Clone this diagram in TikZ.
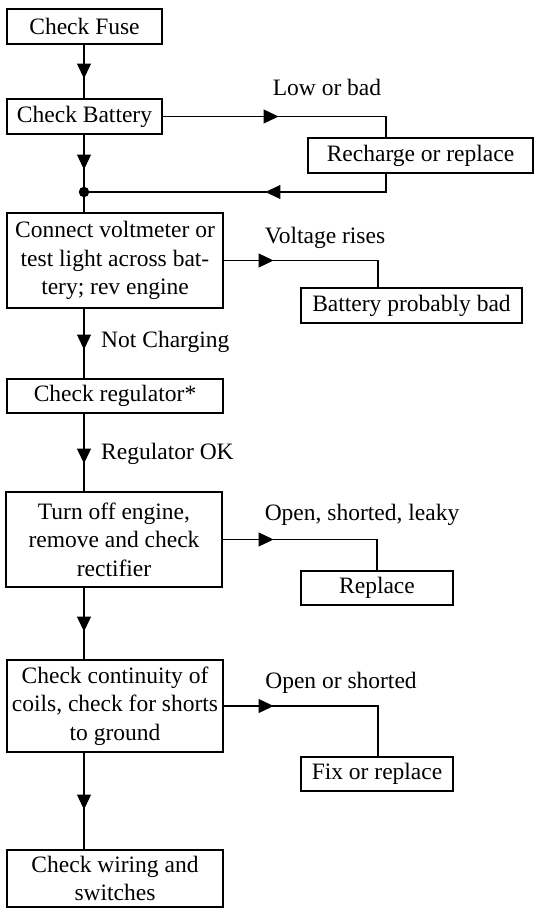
\documentclass[tikz,border=0pt]{standalone}
\usepackage{fontspec}
\setmainfont{Liberation Serif}
\usetikzlibrary{arrows.meta,decorations.markings}
\tikzset{
  box/.style={draw,rectangle,line width=1.1pt,inner sep=0pt,align=center,
    font=\fontsize{23.5}{28.5}\selectfont},
  lbl/.style={inner sep=0pt,font=\fontsize{23.5}{28.5}\selectfont},
  conn/.style={line width=1.1pt},
  midarrow/.style={postaction=decorate,decoration={markings,
    mark=at position #1 with {\arrow{Triangle[length=15pt,width=14pt]}}}}
}
\begin{document}
\begin{tikzpicture}[x=1pt,y=-1pt]
\useasboundingbox (0,0) rectangle (534,909);
\node[box,minimum width=155pt,minimum height=35pt] (b1) at (84.5,26.5) {Check Fuse};
\node[box,minimum width=155pt,minimum height=35pt] (b2) at (84.5,116.5) {Check Battery};
\node[box,minimum width=225pt,minimum height=35pt] (rr) at (420.5,155.5) {Recharge or replace};
\node[circle,fill,inner sep=0pt,minimum size=10.5pt] (j) at (84,192) {};
\node[box,minimum width=216pt,minimum height=95pt] (b3) at (115,260.5) {Connect voltmeter or\\test light across bat-\\tery; rev engine};
\node[box,minimum width=221pt,minimum height=35pt] (bpb) at (411.5,305.5) {Battery probably bad};
\node[box,minimum width=216pt,minimum height=34pt] (b4) at (115,396) {Check regulator*};
\node[box,minimum width=216pt,minimum height=95pt] (b5) at (114,539.5) {Turn off engine,\\remove and check\\rectifier};
\node[box,minimum width=152pt,minimum height=34pt] (rep) at (377,588) {Replace};
\node[box,minimum width=216pt,minimum height=92pt] (b6) at (115,706) {Check continuity of\\coils, check for shorts\\to ground};
\node[box,minimum width=152pt,minimum height=34pt] (fix) at (377,774) {Fix or replace};
\node[box,minimum width=216pt,minimum height=57pt] (b7) at (115,878.5) {Check wiring and\\switches};
% labels
\node[lbl] (l1) at (327,87) {Low or bad};
\node[lbl] (l2) at (325,238) {Voltage rises};
\node[lbl,anchor=west] (l3) at (101,342) {Not Charging};
\node[lbl,anchor=west] (l4) at (101,454) {Regulator OK};
\node[lbl] (l5) at (362,515) {Open, shorted, leaky};
\node[lbl] (l6) at (341,683) {Open or shorted};
% x references for drops
\coordinate (d1) at (386,0);
\coordinate (d2) at (378,0);
\coordinate (d3) at (377,0);
% main spine
\draw[conn,midarrow=34pt] (b1.south -| j) -- (b2.north -| j);
\draw[conn,midarrow=35pt] (b2.south -| j) -- (j);
\draw[conn] (j) -- (b3.north -| j);
\draw[conn,midarrow=41pt] (b3.south -| j) -- (b4.north -| j);
\draw[conn,midarrow=50pt] (b4.south -| j) -- (b5.north -| j);
\draw[conn,midarrow=44pt] (b5.south -| j) -- (b6.north -| j);
\draw[conn,midarrow=57pt] (b6.south -| j) -- (b7.north -| j);
% branches
\draw[conn,midarrow=116pt] (b2.east) -| (d1 |- rr.north);
\draw[conn,midarrow=139pt] (d1 |- rr.south) |- (j);
\draw[conn,midarrow=50pt] (b3.east) -| (d2 |- bpb.north);
\draw[conn,midarrow=51pt] (b5.east) -| (d3 |- rep.north);
\draw[conn,midarrow=50pt] (b6.east) -| (d2 |- fix.north);
\end{tikzpicture}
\end{document}
